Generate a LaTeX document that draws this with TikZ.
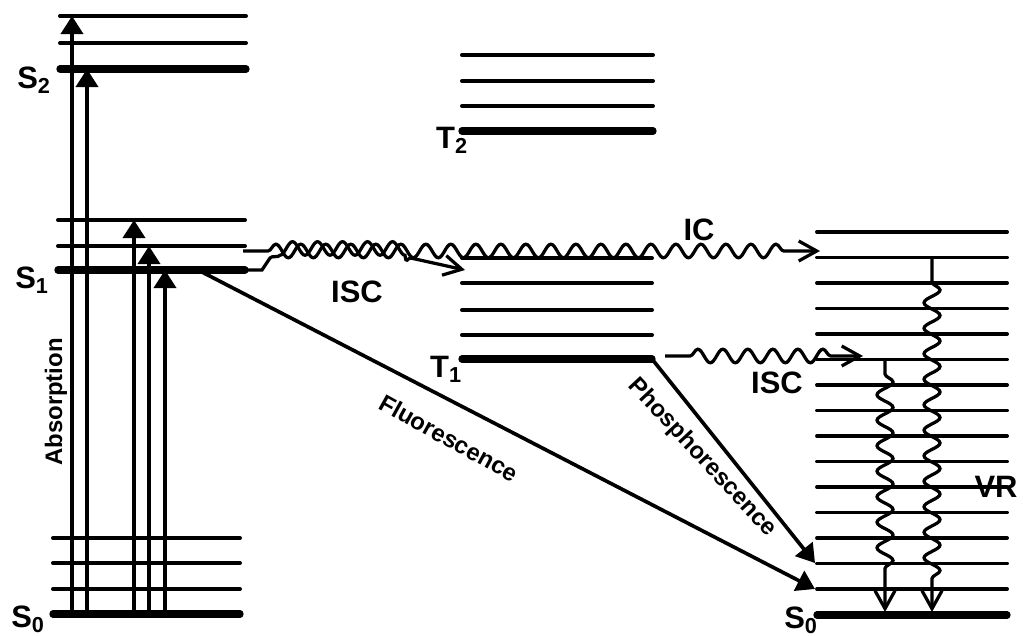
\documentclass[tikz,border=0pt]{standalone}
\usepackage{fontspec}
\setmainfont{Liberation Sans}
\usetikzlibrary{arrows.meta,decorations.pathmorphing}
\def\levels#1#2#3{
  % 1: left end
  % 2: right end
  % 3: heights
  \foreach \h in {#3}
    \draw[level] (#1,\h) -- (#2,\h);
}

\begin{document}
\begin{tikzpicture}[x=0.025cm,y=-0.025cm,
    level/.style={line width=2.8pt,line cap=round},
    ground/.style={line width=5.2pt,line cap=round},
    lbl/.style={font=\fontsize{22}{26}\selectfont\bfseries,inner sep=0pt},
    tlbl/.style={font=\fontsize{17}{20}\selectfont\bfseries,inner sep=0pt},
    photon/.style={line width=2.6pt,-{Triangle[length=0.45cm,width=0.55cm]}},
    wave/.style={line width=2.3pt,-{Straight Barb[length=0.45cm,width=0.5cm]},
      decorate,decoration={snake,amplitude=0.17cm,segment length=0.625cm,#1}}]
  \useasboundingbox (0,0) rectangle (1023,636);

  % singlet levels, left
  \levels{60}{246}{16,43}
  \draw[ground] (60,69) -- (246,69);
  \levels{58}{245}{220,246}
  \draw[ground] (58,270) -- (245,270);
  \levels{53}{240}{538,563,589}
  \draw[ground] (53,614) -- (240,614);
  % triplet levels
  \levels{462}{653}{55,81,106}
  \draw[ground] (462,131) -- (653,131);
  \levels{462}{652}{258,283,310,335}
  \draw[ground] (462,359) -- (652,359);
  % ground state, right
  \levels{817}{1007}{232,257.5,...,590}
  \draw[ground] (817,615) -- (1007,615);

  \node[lbl] (s2) at (34,80) {S\textsubscript{2}};
  \node[lbl] (s1) at (32,280) {S\textsubscript{1}};
  \node[lbl] (s0) at (28,619) {S\textsubscript{0}};
  \node[lbl] (t2) at (452,140) {T\textsubscript{2}};
  \node[lbl] (t1) at (446,369) {T\textsubscript{1}};
  \node[lbl] (s0r) at (801,620) {S\textsubscript{0}};

  % absorption
  \foreach \x/\y [count=\i] in {72/16,87/69,134/220,149/246,165/270}{
    \coordinate (ab\i) at (\x,614);
    \coordinate (ae\i) at (\x,\y);
    \draw[photon] (ab\i) -- (ae\i);
  }
  \node[tlbl,rotate=90] (abs) at (56,402) {Absorption};

  % emission
  \coordinate (fl0) at (200,271);
  \coordinate (fl1) at (815,589);
  \draw[photon] (fl0) -- (fl1);
  \node[tlbl,rotate=-29] (flu) at (449,438) {Fluorescence};
  \coordinate (ph0) at (652,359);
  \coordinate (ph1) at (815,563);
  \draw[photon] (ph0) -- (ph1);
  \node[tlbl,rotate=-47] (pho) at (702,458) {Phosphorescence};

  % radiationless
  \coordinate (ic0) at (243,251);
  \coordinate (ic1) at (820,251);
  \draw[wave={pre length=0.625cm,post length=0.675cm}] (ic0) -- (ic1);
  \node[lbl] (ic) at (699,230) {IC};

  \coordinate (isa0) at (245,270);
  \coordinate (isa1) at (465,270);
  \draw[wave={pre length=0.785cm,post length=1.21cm,mirror}]
    (isa0) -- ++(17,0) -- ++(8,-12) -- ++(150,0) -- ++(20,12) -- (isa1);
  \node[lbl] (isa) at (357,292) {ISC};

  \coordinate (isb0) at (665,356);
  \coordinate (isb1) at (863,356);
  \draw[wave={pre length=0.625cm,post length=0.575cm}] (isb0) -- (isb1);
  \node[lbl] (isb) at (777,383) {ISC};

  \coordinate (vra0) at (932,258);
  \coordinate (vra1) at (932,612);
  \draw[wave={amplitude=0.2cm,segment length=0.6375cm,pre length=0.6cm,post length=0.6cm}] (vra0) -- (vra1);
  \coordinate (vrb0) at (885,359);
  \coordinate (vrb1) at (885,612);
  \draw[wave={amplitude=0.2cm,segment length=0.6375cm,pre length=0.375cm,post length=0.85cm}] (vrb0) -- (vrb1);
  \node[lbl] (vr) at (996,487) {VR};
\end{tikzpicture}
\end{document}
